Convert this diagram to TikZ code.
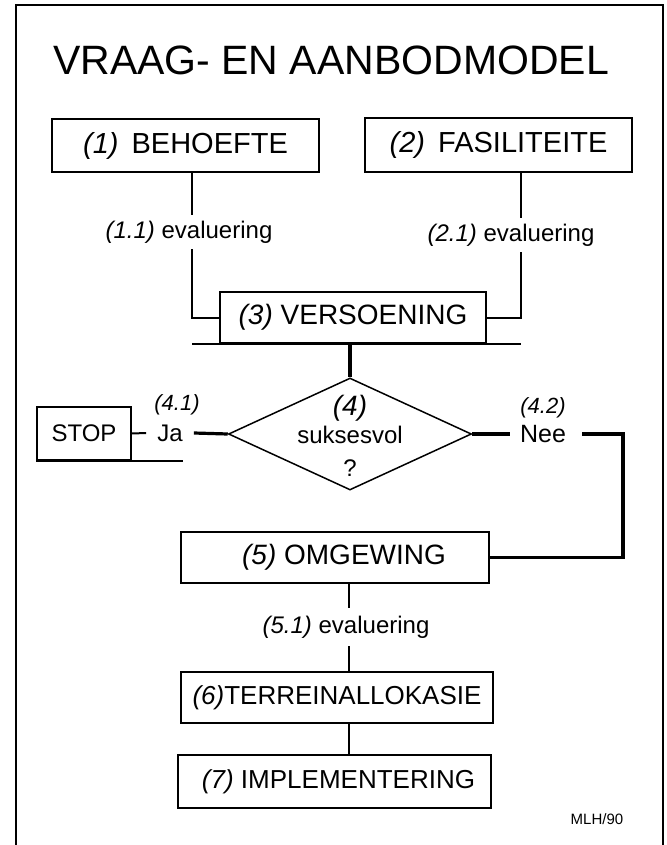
\documentclass[tikz,border=0pt]{standalone}
\usepackage{fontspec}
\setmainfont{Liberation Sans}
\usetikzlibrary{shapes.geometric}
\newcommand\fsz[1]{\fontsize{#1}{#1}\selectfont}
\begin{document}
\begin{tikzpicture}[x=1pt,y=-1pt,
  box/.style={draw, line width=1.5pt, inner sep=0pt, font=\fsz{28}},
  lbl/.style={inner sep=6pt, font=\fsz{24}},
  conn/.style={line width=2pt},
  heavy/.style={line width=3.2pt},
  ]
\useasboundingbox (0,0) rectangle (666,845);
\draw[line width=2pt] (16,845) -- (16,5) -- (663,5) -- (663,845);
\node[font=\fsz{41}] (title) at (331,60) {VRAAG- EN AANBODMODEL};

\node[box, font=\fsz{29}, minimum width=267pt, minimum height=53pt] (b1) at (185.5,145.5) {\textit{(1)}\hspace{0.45em}BEHOEFTE};
\node[box, font=\fsz{29}, minimum width=267pt, minimum height=54pt] (b2) at (498.5,145) {\textit{(2)}\hspace{0.45em}FASILITEITE};
\node[lbl] (l11) at (189,232) {\textit{(1.1)} evaluering};
\node[lbl] (l21) at (511,235) {\textit{(2.1)} evaluering};
\node[box, minimum width=266pt, minimum height=51pt] (b3) at (353,317.5) {\textit{(3)} VERSOENING};

\node[diamond, draw, line width=1.5pt, minimum width=243pt, minimum height=112pt, inner sep=0pt] (d4) at (350,434) {};
\node[anchor=base, font=\fsz{28}\itshape] (d4a) at (350,415) {(4)};
\node[anchor=base, font=\fsz{24}] (d4b) at (350,443) {suksesvol};
\node[anchor=base, font=\fsz{24}] (d4c) at (350,476) {?};

\node[box, font=\fsz{24}, minimum width=94pt, minimum height=53pt] (stop) at (84,433.5) {STOP};
\node[font=\fsz{24}, inner xsep=11pt, inner ysep=0pt] (ja) at (170,433) {Ja};
\node[font=\fsz{22}\itshape] (l41) at (177,405) {(4.1)};
\node[font=\fsz{25}, inner xsep=10pt, inner ysep=0pt] (nee) at (543,434) {Nee};
\node[font=\fsz{22}\itshape] (l42) at (543,408) {(4.2)};

\node[box, minimum width=308pt, minimum height=51pt] (b5) at (335,557.5) {\hspace*{18pt}\textit{(5)} OMGEWING};
\node[lbl, inner sep=8pt] (l51) at (346,627) {\textit{(5.1)} evaluering};
\node[box, font=\fsz{26}, minimum width=312pt, minimum height=51pt] (b6) at (337,697.5) {\textit{(6)}TERREINALLOKASIE};
\node[box, font=\fsz{26}, minimum width=313pt, minimum height=53pt] (b7) at (334.5,781.5) {\hspace*{8pt}\textit{(7)} IMPLEMENTERING};
\node[font=\fsz{15}] (mlh) at (597,819) {MLH/90};

\coordinate (s1) at (192,0);
\coordinate (s2) at (521,0);
\coordinate (s5) at (349,0);
\coordinate (sN) at (623,0);

\draw[conn] (s1 |- b1.south) -- (s1 |- l11.north);
\draw[conn] (s1 |- l11.south) |- (b3.west);
\draw[conn] (s2 |- b2.south) -- (s2 |- l21.north);
\draw[conn] (s2 |- l21.south) |- (b3.east);
\draw[line width=1.5pt] (s1 |- b3.south) -- (s2 |- b3.south);
\draw[heavy] (b3.south -| d4.north) -- (d4.north);

\draw[conn] (stop.east) -- (ja.west);
\draw[line width=1.5pt] (stop.south west) -- ([xshift=-11pt]stop.south west -| ja.east);
\draw[heavy] (ja.east) -- (d4.west);
\draw[heavy] (d4.east) -- (nee.west);
\draw[heavy] ([xshift=6pt]nee.east) -| (sN |- b5.east) -- (b5.east);

\draw[conn] (s5 |- b5.south) -- (s5 |- l51.north);
\draw[conn] (s5 |- l51.south) -- (s5 |- b6.north);
\draw[conn] (s5 |- b6.south) -- (s5 |- b7.north);
\end{tikzpicture}
\end{document}
